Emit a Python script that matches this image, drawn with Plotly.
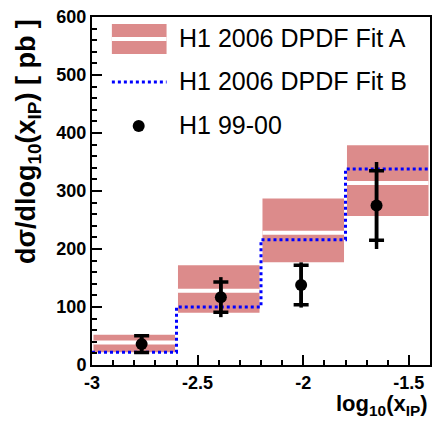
import plotly.graph_objects as go

# Bins in log10(x_IP)
bin_edges = [-3.0, -2.6, -2.2, -1.8, -1.4]

# H1 2006 DPDF Fit A: error band and central value per bin [pb]
fitA_low = [22, 90, 177, 257]
fitA_high = [52, 172, 287, 379]
fitA_central = [39, 128, 228, 314]

# H1 2006 DPDF Fit B: central value per bin [pb]
fitB = [22, 100, 216, 338]

# H1 99-00 measurement
data_x = [-2.765, -2.39, -2.01, -1.653]
data_y = [36, 117, 138, 275]
data_stat = [14.5, 26, 34, 60]
data_total = [14.5, 34.5, 39, 75]

x_tick_vals = [-3, -2.5, -2, -1.5]
x_tick_text = ["-3", "-2.5", "-2", "-1.5"]
y_tick_vals = [0, 100, 200, 300, 400, 500, 600]

legend_labels = ["H1 2006 DPDF Fit A", "H1 2006 DPDF Fit B", "H1 99-00"]

PINK = "#dc8b8b"
BLUE = "#0000ff"
FONT = "Liberation Sans"

bin_gap = 0.014
bin_mid = [(a + b) / 2 for a, b in zip(bin_edges[:-1], bin_edges[1:])]
bin_width = [(b - a) - bin_gap for a, b in zip(bin_edges[:-1], bin_edges[1:])]

fig = go.Figure()

# Fit A uncertainty band
fig.add_trace(go.Bar(
    x=bin_mid, y=[h - l for h, l in zip(fitA_high, fitA_low)], base=fitA_low,
    width=bin_width, marker=dict(color=PINK, line=dict(width=0)),
    showlegend=False, hoverinfo="skip",
))

# Fit A central value as a white line inside each band
cx, cy = [], []
for i, c in enumerate(fitA_central):
    cx += [bin_edges[i] + bin_gap / 2, bin_edges[i + 1] - bin_gap / 2, None]
    cy += [c, c, None]
fig.add_trace(go.Scatter(
    x=cx, y=cy, mode="lines", line=dict(color="white", width=4),
    showlegend=False, hoverinfo="skip",
))

# Fit B histogram as dotted step line
fig.add_trace(go.Scatter(
    x=bin_edges, y=fitB + [fitB[-1]], mode="lines",
    line=dict(color=BLUE, width=3, dash="3px,3px", shape="hv"),
    showlegend=False, hoverinfo="skip",
))

# Data: total error (line only) and statistical error (with ticks)
fig.add_trace(go.Scatter(
    x=data_x, y=data_y, mode="markers", marker=dict(size=1, color="black", opacity=0),
    error_y=dict(type="data", array=data_total, color="black", thickness=3.5, width=0),
    showlegend=False, hoverinfo="skip",
))
fig.add_trace(go.Scatter(
    x=data_x, y=data_y, mode="markers", marker=dict(size=12, color="black"),
    error_y=dict(type="data", array=data_stat, color="black", thickness=3.5, width=7.5),
    showlegend=False,
))

# Legend keys (paper coordinates)
fig.add_shape(type="rect", xref="paper", yref="paper",
              x0=0.0588, x1=0.2206, y0=0.8937, y1=0.9799,
              fillcolor=PINK, line=dict(width=0))
fig.add_shape(type="line", xref="paper", yref="paper",
              x0=0.0588, x1=0.2206, y0=0.9368, y1=0.9368,
              line=dict(color="white", width=4))
fig.add_shape(type="line", xref="paper", yref="paper",
              x0=0.0588, x1=0.2206, y0=0.8132, y1=0.8132,
              line=dict(color=BLUE, width=3, dash="3px,3px"))
fig.add_shape(type="circle", xref="paper", yref="paper",
              xsizemode="pixel", ysizemode="pixel",
              xanchor=0.1382, yanchor=0.6868,
              x0=-6, x1=6, y0=-6, y1=6,
              fillcolor="black", line=dict(width=0))

for label, ypos in zip(legend_labels, [0.941, 0.815, 0.690]):
    fig.add_annotation(text=label, xref="paper", yref="paper", x=0.2529, y=ypos,
                       xanchor="left", yanchor="middle", showarrow=False,
                       font=dict(family=FONT, size=25, color="black"))

# Axis titles
fig.add_annotation(text="dσ/dlog<sub>10</sub>(x<sub>IP</sub>) [ pb ]",
                   xref="paper", yref="paper", x=-0.191, y=1.0,
                   xanchor="center", yanchor="top", textangle=-90, showarrow=False,
                   font=dict(family=FONT, size=27, color="black", weight="bold"))
fig.add_annotation(text="log<sub>10</sub>(x<sub>IP</sub>)",
                   xref="paper", yref="paper", x=1.0, y=-0.115,
                   xanchor="right", yanchor="middle", showarrow=False,
                   font=dict(family=FONT, size=22, color="black", weight="bold"))

axis_common = dict(
    showline=True, linecolor="black", linewidth=2, mirror=True,
    showgrid=False, zeroline=False, ticks="inside", tickcolor="black",
    tickwidth=2, ticklen=10,
    tickfont=dict(family=FONT, size=18, color="black", weight="bold"),
)

fig.update_xaxes(range=[-3, -1.4], tickvals=x_tick_vals, ticktext=x_tick_text,
                 minor=dict(dtick=0.1, tick0=-3, ticks="inside", ticklen=5,
                            tickwidth=2, tickcolor="black"),
                 **axis_common)
fig.update_yaxes(range=[0, 600], tickvals=y_tick_vals,
                 minor=dict(dtick=20, tick0=0, ticks="inside", ticklen=5,
                            tickwidth=2, tickcolor="black"),
                 **axis_common)

fig.update_layout(
    width=433, height=421,
    margin=dict(l=92, r=1, t=17, b=56),
    paper_bgcolor="white", plot_bgcolor="white",
    barmode="overlay", showlegend=False,
    font=dict(family=FONT, color="black"),
)

fig.write_html("out.html")
